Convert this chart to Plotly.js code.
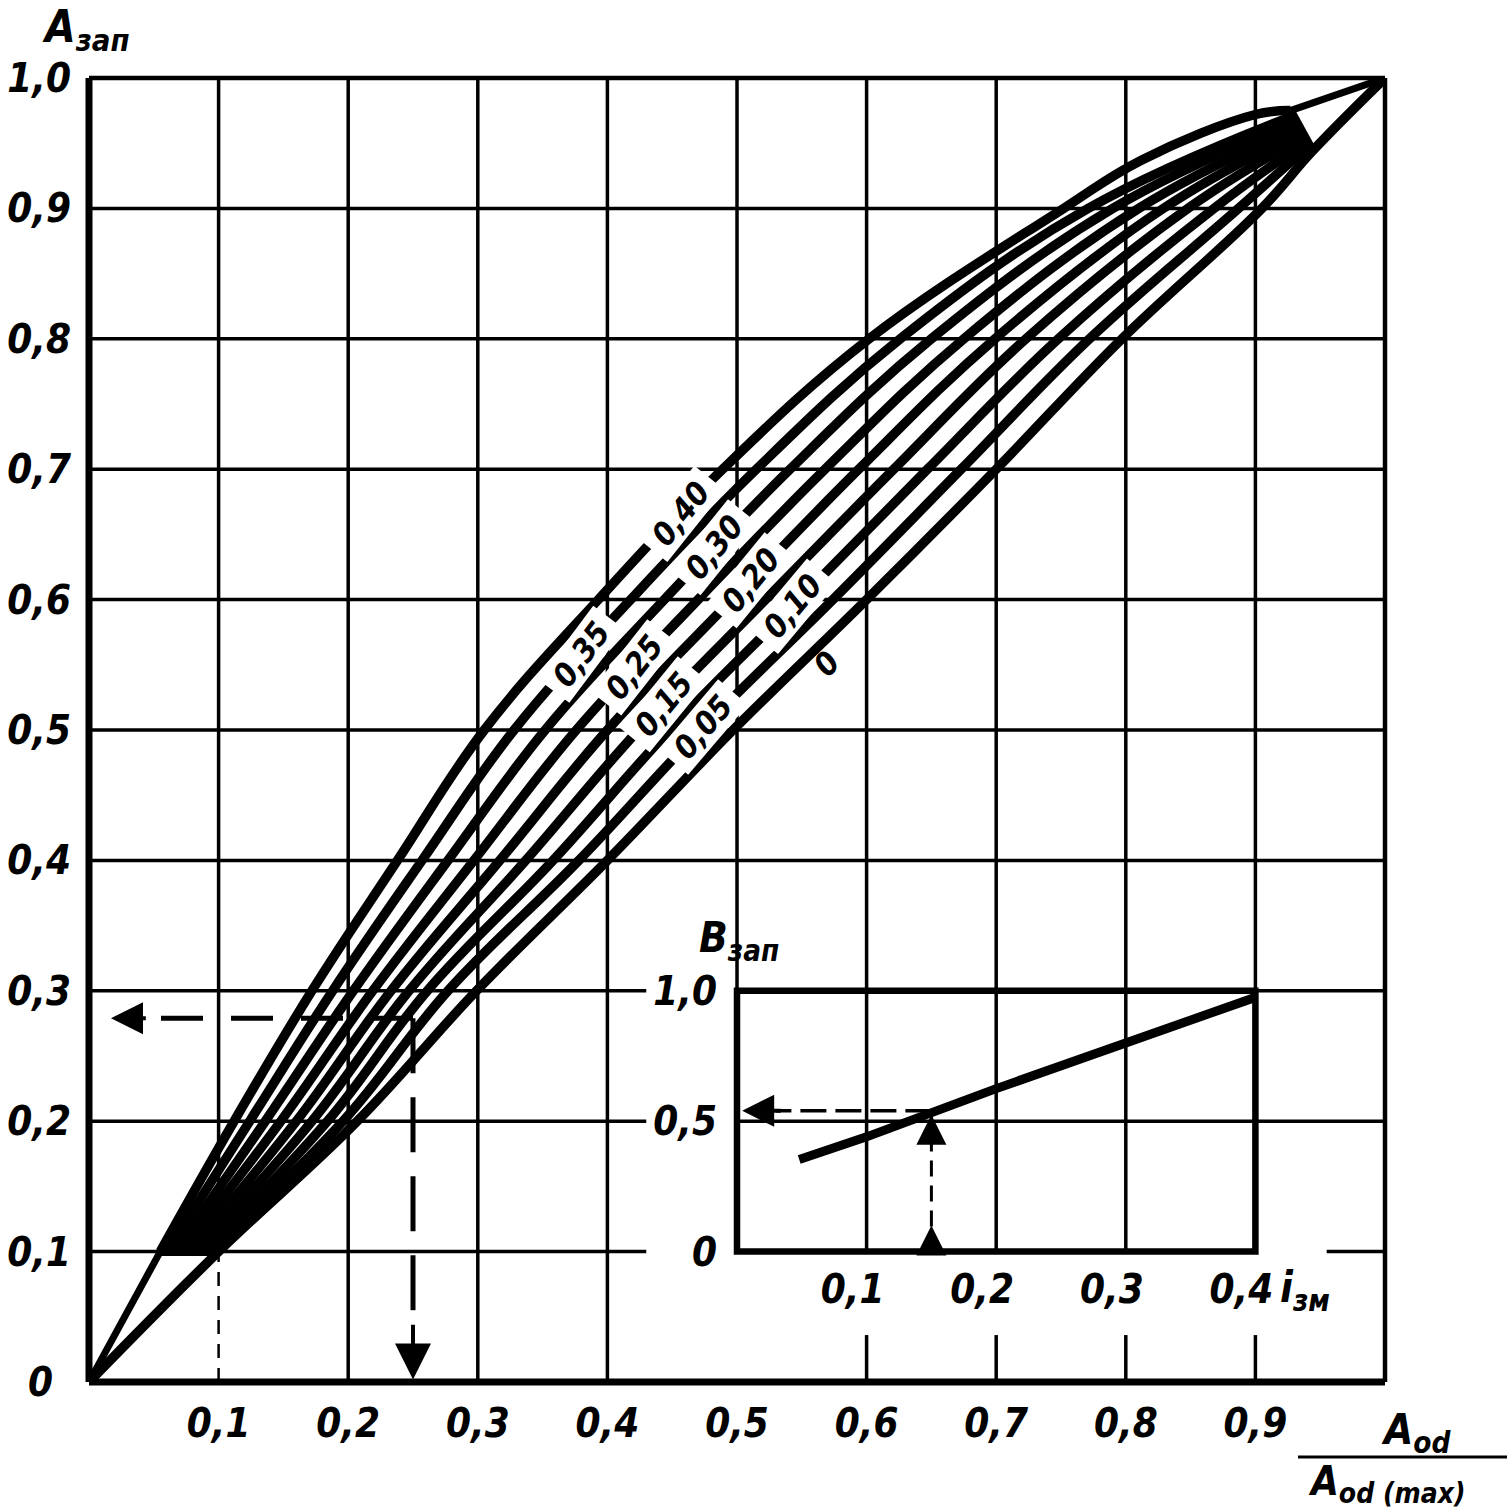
<!DOCTYPE html>
<html><head><meta charset="utf-8">
<script src="https://cdn.plot.ly/plotly-3.0.1.min.js"></script>
<style>html,body{margin:0;padding:0;background:#fff}#chart{width:1507px;height:1510px}</style>
</head><body><div id="chart"></div>
<script>
// ---------------- data ----------------
// curve family: value of the parameter for each curve (labels), top curve first
const curveLabels = ['0,40', '0,35', '0,30', '0,25', '0,20', '0,15', '0,10', '0,05', '0'];
// A_зап levels at which each curve's abscissa (A_od / A_od(max)) was read
const yLevels = [0.1, 0.2, 0.3, 0.4, 0.5, 0.6, 0.7, 0.8, 0.9];
const x040 = [0.055, 0.112, 0.172, 0.238, 0.305, 0.393, 0.489, 0.602, 0.752];
const x035 = [0.060, 0.124, 0.188, 0.257, 0.328, 0.418, 0.515, 0.626, 0.771];
const x030 = [0.066, 0.136, 0.204, 0.277, 0.352, 0.444, 0.541, 0.650, 0.790];
const x025 = [0.071, 0.148, 0.219, 0.297, 0.376, 0.470, 0.568, 0.675, 0.810];
const x020 = [0.077, 0.160, 0.233, 0.317, 0.400, 0.496, 0.594, 0.699, 0.829];
const x015 = [0.082, 0.172, 0.247, 0.337, 0.424, 0.522, 0.621, 0.723, 0.848];
const x010 = [0.088, 0.184, 0.261, 0.358, 0.448, 0.548, 0.647, 0.748, 0.868];
const x005 = [0.093, 0.196, 0.277, 0.378, 0.472, 0.574, 0.673, 0.772, 0.887];
const x000 = [0.100, 0.207, 0.299, 0.400, 0.497, 0.600, 0.700, 0.797, 0.905];
// where each curve meets the upper-right front
const endX = [0.927, 0.929, 0.931, 0.933, 0.935, 0.937, 0.939, 0.941, 0.944];
const endY = [0.975, 0.971, 0.967, 0.963, 0.959, 0.955, 0.951, 0.948, 0.944];
// extra points read on the shoulder of the top curve
const topShoulderX = [0.812, 0.900];
const topShoulderY = [0.937, 0.972];
// common start and end of the envelope
const originPt = [0, 0];
const tipPt = [1, 1];
// A_зап level at which each curve label is written
const labelAt = [0.666, 0.558, 0.640, 0.548, 0.615, 0.520, 0.595, 0.502, 0.555];

// worked example on the main chart
const exampleRatio = 0.25;
const exampleA = 0.279;

// inset: B_зап versus i_зм
const insetI = [0.048, 0.10, 0.20, 0.30, 0.40];
const insetB = [0.353, 0.44, 0.625, 0.80, 0.975];
const exampleI = 0.15;
const exampleB = 0.54;

// ticks
const mainXTicks = [0.1, 0.2, 0.3, 0.4, 0.5, 0.6, 0.7, 0.8, 0.9];
const mainXText = ['0,1', '0,2', '0,3', '0,4', '0,5', '0,6', '0,7', '0,8', '0,9'];
const mainYTicks = [0, 0.1, 0.2, 0.3, 0.4, 0.5, 0.6, 0.7, 0.8, 0.9, 1.0];
const mainYText = ['0\u2002', '0,1', '0,2', '0,3', '0,4', '0,5', '0,6', '0,7', '0,8', '0,9', '1,0'];
const insetXTicks = [0.1, 0.2, 0.3, 0.4];
const insetXText = ['0,1', '0,2', '0,3', '0,4'];
const insetYTicks = [0, 0.5, 1.0];
const insetYText = ['0', '0,5', '1,0'];

// ---------------- layout constants ----------------
const INK = '#000';
const FONT = '"Liberation Sans Narrow", "DejaVu Sans Condensed", "Arial Narrow", sans-serif';
const W = 1507, H = 1510;
const M = {l: 89, r: 122, t: 78, b: 128};
const plotW = W - M.l - M.r, plotH = H - M.t - M.b;
const PX = px => (px - M.l) / plotW;
const PY = py => (H - M.b - py) / plotH;
const insetDomX = [0.5, 0.9], insetDomY = [0.1, 0.3];
const insetRangeX = [0, 0.4], insetRangeY = [0, 1];
const GW = 3.5;        // grid width
const CW = 9.5;        // curve width
const tickFont = {family: FONT, size: 40, color: INK, style: 'italic', weight: 'bold'};

const curveXs = [x040, x035, x030, x025, x020, x015, x010, x005, x000];

// ---------------- grid (shapes) ----------------
const shapes = [];
function seg(x0, y0, x1, y1, w, dash) {
  shapes.push({type: 'line', xref: 'x', yref: 'y', x0, y0, x1, y1, layer: 'below',
    line: {color: INK, width: w, dash: dash || 'solid'}});
}
const near = (a, b) => Math.abs(a - b) < 1e-9;
const labelGapStart = 0.43, izmGapEnd = 0.955, stubTop = 0.036;
mainXTicks.forEach(t => {
  if (t < insetDomX[0] - 1e-9) {
    if (near(t, mainXTicks[0])) { seg(t, insetDomY[0], t, 1, GW); seg(t, 0, t, insetDomY[0], 2.5, '14px,10px'); }
    else seg(t, 0, t, 1, GW);
  } else {
    seg(t, insetDomY[0], t, 1, GW);
    if (t > insetDomX[0] + 1e-9) seg(t, 0, t, stubTop, GW);
  }
});
mainYTicks.slice(1, -1).forEach(t => {
  if (t < insetDomY[1] + 1e-9) {
    seg(0, t, labelGapStart, t, GW);
    if (near(t, insetDomY[0])) { seg(insetDomX[0], t, insetDomX[1], t, GW); seg(izmGapEnd, t, 1, t, GW); }
    else seg(insetDomX[0], t, 1, t, GW);
  } else seg(0, t, 1, t, GW);
});
function pline(x0, y0, x1, y1, w) {
  shapes.push({type: 'line', xref: 'paper', yref: 'paper', x0, y0, x1, y1, line: {color: INK, width: w}});
}
pline(0, 0, 0, 1, 7);
pline(0, 0, 1, 0, 7);
pline(0, 1, 1, 1, 4.5);
pline(1, 0, 1, 1, 4.5);
shapes.push({type: 'rect', xref: 'paper', yref: 'paper', x0: insetDomX[0], x1: insetDomX[1],
  y0: insetDomY[0], y1: insetDomY[1], line: {color: INK, width: 6.5}});
shapes.push({type: 'line', xref: 'paper', yref: 'paper', x0: PX(1298), x1: PX(1507), y0: PY(1457), y1: PY(1457),
  line: {color: INK, width: 3}});

// ---------------- traces ----------------
const traces = [];
const lineTrace = (x, y, w, extra) => ({type: 'scatter', mode: 'lines', x, y,
  hoverinfo: 'skip', showlegend: false, line: Object.assign({color: INK, width: w}, (extra || {}))});

traces.push(lineTrace([exampleRatio, 0.03], [exampleA, exampleA], 5, {dash: '42px,28px'}));
traces.push(lineTrace([exampleRatio, exampleRatio], [exampleA, 0.04], 5, {dash: '55px,24px'}));

const curvePts = curveXs.map((xs, j) => {
  let x = xs.slice(), y = yLevels.slice();
  if (j === 0) { x = x.concat(topShoulderX); y = y.concat(topShoulderY); }
  x.push(endX[j]); y.push(endY[j]);
  if (j === curveXs.length - 1) { x.unshift(originPt[0]); y.unshift(originPt[1]); x.push(tipPt[0]); y.push(tipPt[1]); }
  return {x, y};
});
curvePts.forEach(p => traces.push(lineTrace(p.x, p.y, CW, {shape: 'spline', smoothing: 1.1})));
traces.push(lineTrace([originPt[0], x040[0]], [originPt[1], yLevels[0]], 7));
traces.push(lineTrace([endX[0], tipPt[0]], [endY[0], tipPt[1]], 7));
traces.push(lineTrace(curveXs.map(a => a[0]), curveXs.map(() => yLevels[0]), 9));
traces.push(lineTrace(endX, endY, 9));

traces.push(Object.assign(lineTrace(insetI, insetB, 9), {xaxis: 'x2', yaxis: 'y2'}));
traces.push(Object.assign(lineTrace([exampleI, exampleI], [0, exampleB - 0.02], 3, {dash: '16px,9px'}), {xaxis: 'x2', yaxis: 'y2'}));
traces.push(Object.assign(lineTrace([exampleI, 0.03], [exampleB, exampleB], 3.5, {dash: '26px,9px'}), {xaxis: 'x2', yaxis: 'y2'}));

// ---------------- annotations ----------------
const ann = [];
function xAt(p, yv) {
  for (let i = 0; i < p.y.length - 1; i++) {
    const y0 = p.y[i], y1 = p.y[i + 1];
    if ((yv - y0) * (yv - y1) <= 0 && y1 !== y0) {
      const f = (yv - y0) / (y1 - y0);
      return {x: p.x[i] + f * (p.x[i + 1] - p.x[i]), dx: p.x[i + 1] - p.x[i], dy: y1 - y0};
    }
  }
  return {x: p.x[0], dx: 1, dy: 1};
}
curveLabels.forEach((lab, j) => {
  const r = xAt(curvePts[j], labelAt[j]);
  const ang = -Math.atan2(r.dy * plotH, r.dx * plotW) * 180 / Math.PI - 5;
  const last = j === curveLabels.length - 1;
  ann.push({xref: 'x', yref: 'y', x: r.x, y: labelAt[j], text: last ? lab : '\u00A0' + lab + '\u00A0',
    showarrow: false, textangle: ang, xshift: last ? 20 : 0, yshift: last ? -6 : 0,
    bgcolor: last ? 'rgba(0,0,0,0)' : '#fff', borderpad: 0,
    font: {family: FONT, size: 32, color: INK, style: 'italic', weight: 'bold'}});
});
function arrow(xref, yref, x, y, ax, ay, w, size) {
  ann.push({xref, yref, axref: xref, ayref: yref, x, y, ax, ay, text: '', showarrow: true,
    arrowhead: 2, arrowsize: size, arrowwidth: w, arrowcolor: INK, standoff: 0, startstandoff: 0});
}
arrow('x', 'y', 0.017, exampleA, 0.045, exampleA, 4, 1.6);
arrow('x', 'y', exampleRatio, 0.002, exampleRatio, 0.045, 4, 1.8);
arrow('x2', 'y2', exampleI, exampleB - 0.015, exampleI, 0.40, 3, 2.0);
arrow('x2', 'y2', exampleI, 0.10, exampleI, 0.01, 3, 2.0);
arrow('x2', 'y2', 0.004, exampleB, 0.035, exampleB, 4, 1.6);

const titleFont = s => ({family: FONT, size: s, color: INK, style: 'italic', weight: 'bold'});
function label(text, px, py, size, xanchor) {
  ann.push({xref: 'paper', yref: 'paper', x: PX(px), y: PY(py), text, showarrow: false,
    xanchor: xanchor || 'center', yanchor: 'middle', font: titleFont(size)});
}
label('A<sub>зап</sub>', 40, 30, 44, 'left');
label('B<sub>зап</sub>', 697, 940, 42, 'left');
label('i<sub>зм</sub>', 1278, 1290, 42, 'left');
label('A<sub>od</sub>', 1416, 1432, 42);
label('A<sub>od (max)</sub>', 1387, 1484, 40);

// ---------------- layout ----------------
const layout = {
  width: W, height: H, margin: M,
  paper_bgcolor: '#fff', plot_bgcolor: 'rgba(0,0,0,0)',
  showlegend: false,
  xaxis: {domain: [0, 1], range: [0, 1], showgrid: false, zeroline: false, showline: false,
    tickmode: 'array', tickvals: mainXTicks, ticktext: mainXText, ticks: '', tickfont: tickFont,
    ticklabelstandoff: 14, fixedrange: true},
  yaxis: {domain: [0, 1], range: [0, 1], showgrid: false, zeroline: false, showline: false,
    tickmode: 'array', tickvals: mainYTicks, ticktext: mainYText, ticks: '', tickfont: tickFont,
    ticklabelstandoff: 17, fixedrange: true},
  xaxis2: {domain: insetDomX, anchor: 'y2', range: insetRangeX, showgrid: false, zeroline: false, showline: false,
    tickmode: 'array', tickvals: insetXTicks, ticktext: insetXText, ticks: '', tickfont: tickFont,
    ticklabelstandoff: 10, ticklabelshift: -14, fixedrange: true},
  yaxis2: {domain: insetDomY, anchor: 'x2', range: insetRangeY, showgrid: false, zeroline: false, showline: false,
    tickmode: 'array', tickvals: insetYTicks, ticktext: insetYText, ticks: '', tickfont: tickFont,
    ticklabelstandoff: 19, fixedrange: true},
  shapes, annotations: ann
};
Plotly.newPlot('chart', traces, layout, {displayModeBar: false, staticPlot: true});
</script></body></html>
